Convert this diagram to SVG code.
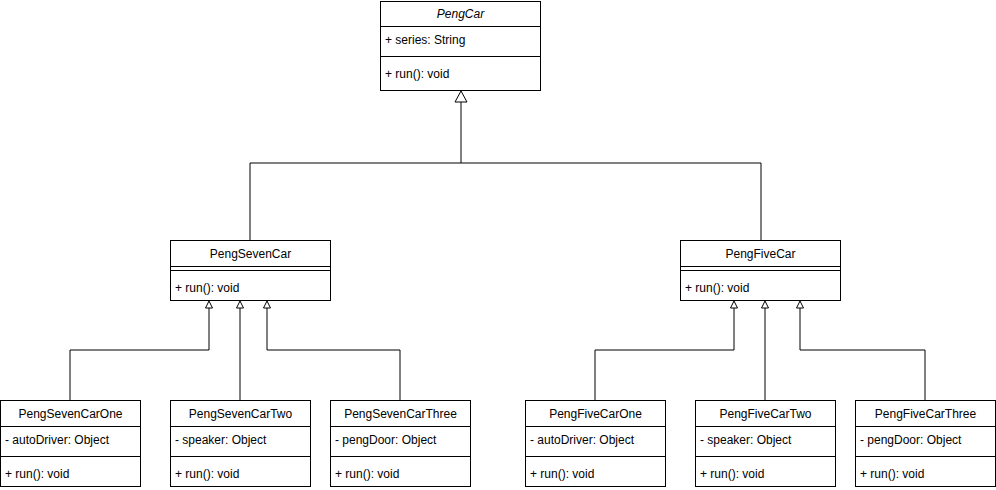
<svg xmlns="http://www.w3.org/2000/svg" width="996" height="490" viewBox="0 0 996 490">
<style>
.box{fill:#fff;stroke:#000;stroke-width:1}
.ln{fill:none;stroke:#000;stroke-width:1}
text{font-family:"Liberation Sans",Arial,sans-serif;font-size:12px;fill:#000}
.t{text-anchor:middle}
.i{font-style:italic}
.tri{fill:#fff;stroke:#000;stroke-width:1}
</style>
<rect width="996" height="490" fill="#fff"/>
<g id="connectors">
<path class="ln" d="M461 102 V163 M250 240 V163 H761 V240"/>
<polygon class="tri" points="461,91 455,102 467,102"/>
<path class="ln" d="M209 308 V350 H70 V400 M240 308 V400 M267 308 V350 H400 V400"/>
<polygon class="tri" points="209,301 205.5,308 212.5,308"/>
<polygon class="tri" points="240,301 236.5,308 243.5,308"/>
<polygon class="tri" points="267,301 263.5,308 270.5,308"/>
<path class="ln" d="M734 308 V350 H595 V400 M765 308 V400 M800 308 V350 H925 V400"/>
<polygon class="tri" points="734,301 730.5,308 737.5,308"/>
<polygon class="tri" points="765,301 761.5,308 768.5,308"/>
<polygon class="tri" points="800,301 796.5,308 803.5,308"/>
</g>
<g id="PengCar">
<rect class="box" x="380.5" y="1.5" width="160" height="89"/>
<path class="ln" d="M380.5 26.5 H540.5 M380.5 56.5 H540.5"/>
<text class="t i" x="460.5" y="18">PengCar</text>
<text x="385" y="44">+ series: String</text>
<text x="385" y="78">+ run(): void</text>
</g>
<g id="PengSevenCar">
<rect class="box" x="170.5" y="240.5" width="160" height="60"/>
<path class="ln" d="M170.5 266.5 H330.5 M170.5 270.5 H330.5"/>
<text class="t" x="250.5" y="258">PengSevenCar</text>
<text x="175" y="292">+ run(): void</text>
</g>
<g id="PengFiveCar">
<rect class="box" x="680.5" y="240.5" width="160" height="60"/>
<path class="ln" d="M680.5 266.5 H840.5 M680.5 270.5 H840.5"/>
<text class="t" x="760.5" y="258">PengFiveCar</text>
<text x="685" y="292">+ run(): void</text>
</g>
<g id="PengSevenCarOne">
<rect class="box" x="0.5" y="400.5" width="140" height="86"/>
<path class="ln" d="M0.5 426.5 H140.5 M0.5 456.5 H140.5"/>
<text class="t" x="70.5" y="418">PengSevenCarOne</text>
<text x="5" y="444">- autoDriver: Object</text>
<text x="5" y="478">+ run(): void</text>
</g>
<g id="PengSevenCarTwo">
<rect class="box" x="170.5" y="400.5" width="140" height="86"/>
<path class="ln" d="M170.5 426.5 H310.5 M170.5 456.5 H310.5"/>
<text class="t" x="240.5" y="418">PengSevenCarTwo</text>
<text x="175" y="444">- speaker: Object</text>
<text x="175" y="478">+ run(): void</text>
</g>
<g id="PengSevenCarThree">
<rect class="box" x="330.5" y="400.5" width="140" height="86"/>
<path class="ln" d="M330.5 426.5 H470.5 M330.5 456.5 H470.5"/>
<text class="t" x="400.5" y="418">PengSevenCarThree</text>
<text x="335" y="444">- pengDoor: Object</text>
<text x="335" y="478">+ run(): void</text>
</g>
<g id="PengFiveCarOne">
<rect class="box" x="525.5" y="400.5" width="140" height="86"/>
<path class="ln" d="M525.5 426.5 H665.5 M525.5 456.5 H665.5"/>
<text class="t" x="595.5" y="418">PengFiveCarOne</text>
<text x="530" y="444">- autoDriver: Object</text>
<text x="530" y="478">+ run(): void</text>
</g>
<g id="PengFiveCarTwo">
<rect class="box" x="695.5" y="400.5" width="140" height="86"/>
<path class="ln" d="M695.5 426.5 H835.5 M695.5 456.5 H835.5"/>
<text class="t" x="765.5" y="418">PengFiveCarTwo</text>
<text x="700" y="444">- speaker: Object</text>
<text x="700" y="478">+ run(): void</text>
</g>
<g id="PengFiveCarThree">
<rect class="box" x="855.5" y="400.5" width="140" height="86"/>
<path class="ln" d="M855.5 426.5 H995.5 M855.5 456.5 H995.5"/>
<text class="t" x="925.5" y="418">PengFiveCarThree</text>
<text x="860" y="444">- pengDoor: Object</text>
<text x="860" y="478">+ run(): void</text>
</g>
</svg>
